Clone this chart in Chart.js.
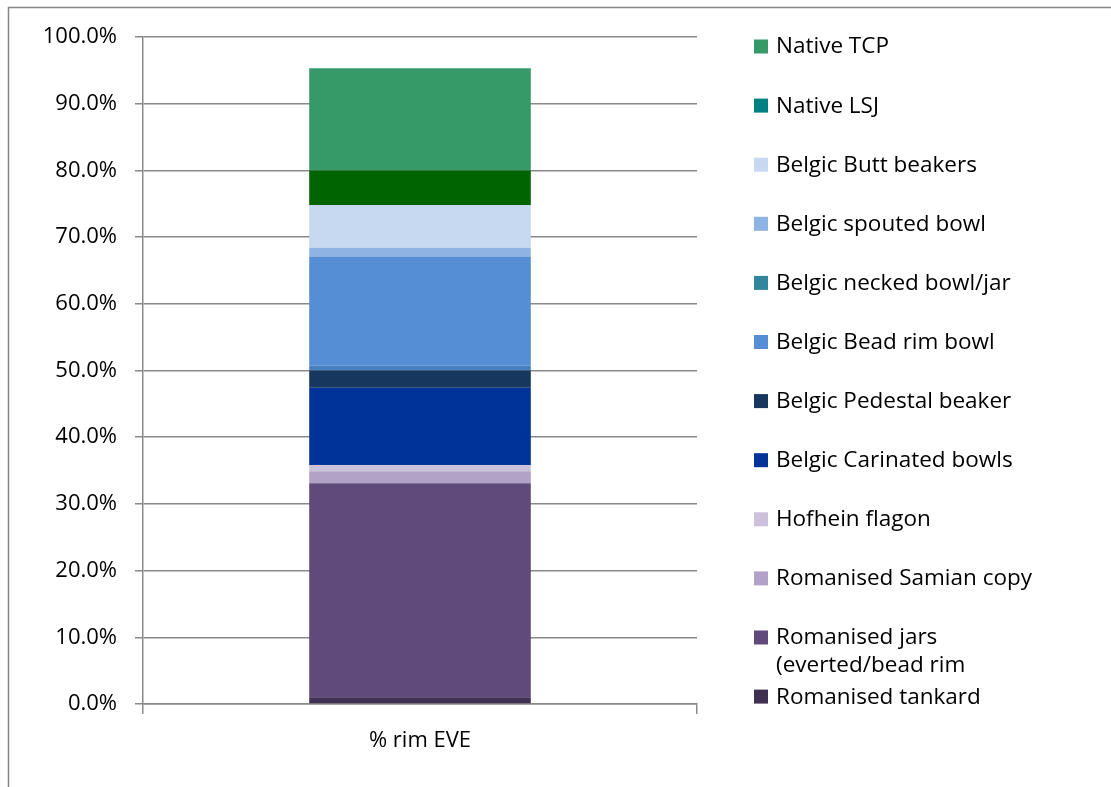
<!DOCTYPE html>
<html>
<head>
<meta charset="utf-8">
<script src="https://cdn.jsdelivr.net/npm/chart.js@4/dist/chart.umd.min.js"></script>
<style>
  html, body { margin: 0; padding: 0; background: #fff; }
  #wrap { width: 1111px; height: 787px; }
</style>
</head>
<body>
<div id="wrap"><canvas id="chart" width="1111" height="787"></canvas></div>
<script>
// data, bottom of the stack first
const categories = ['% rim EVE'];
const seriesNames = [
  'Romanised tankard',
  'Romanised jars (everted/bead rim',
  'Romanised Samian copy',
  'Hofhein flagon',
  'Belgic Carinated bowls',
  'Belgic Pedestal beaker',
  'Belgic necked bowl/jar',
  'Belgic Bead rim bowl',
  'Belgic spouted bowl',
  'Belgic Butt beakers',
  'Native LSJ',
  'Native TCP'
];
const seriesValues = [1.0, 32.1, 1.8, 0.9, 11.6, 2.6, 0.7, 16.4, 1.3, 6.4, 5.2, 15.3];
const barColors = [
  '#403152', '#604a7b', '#b3a2c7', '#ccc1da', '#003399', '#17375e',
  '#4a7fbf', '#558ed5', '#8eb4e3', '#c6d9f1', '#006400', '#369a68'
];
const legendColors = [
  '#403152', '#604a7b', '#b3a2c7', '#ccc1da', '#003399', '#17375e',
  '#31859c', '#558ed5', '#8eb4e3', '#c6d9f1', '#008080', '#369a68'
];
// legend as printed, top to bottom
const legendOrder = [
  'Native TCP',
  'Native LSJ',
  'Belgic Butt beakers',
  'Belgic spouted bowl',
  'Belgic necked bowl/jar',
  'Belgic Bead rim bowl',
  'Belgic Pedestal beaker',
  'Belgic Carinated bowls',
  'Hofhein flagon',
  'Romanised Samian copy',
  'Romanised jars (everted/bead rim',
  'Romanised tankard'
];
const yTicks = [0, 10, 20, 30, 40, 50, 60, 70, 80, 90, 100];

const FONT = '"Open Sans", sans-serif';
const GRID = '#8a8a8a';

// Excel-like outer frame + hand-drawn legend on the right
const frameAndLegend = {
  id: 'frameAndLegend',
  beforeDraw(chart) {
    const ctx = chart.ctx;
    ctx.save();
    ctx.strokeStyle = '#868686';
    ctx.lineWidth = 1.5;
    ctx.beginPath();
    ctx.moveTo(8.5, 787);
    ctx.lineTo(8.5, 7.5);
    ctx.lineTo(1111, 7.5);
    ctx.stroke();
    ctx.restore();
  },
  afterDraw(chart) {
    const ctx = chart.ctx;
    ctx.save();
    ctx.font = '22.5px ' + FONT;
    ctx.textBaseline = 'middle';
    legendOrder.forEach((name, i) => {
      const idx = seriesNames.indexOf(name);
      const cy = 46.5 + i * 59.1;
      ctx.fillStyle = legendColors[idx];
      ctx.fillRect(754, cy - 7, 14, 14);
      ctx.fillStyle = '#000';
      // simple greedy wrap
      const words = name.split(' ');
      const lines = [];
      let line = '';
      words.forEach(w => {
        const test = line ? line + ' ' + w : w;
        if (ctx.measureText(test).width > 300 && line) {
          lines.push(line);
          line = w;
        } else {
          line = test;
        }
      });
      lines.push(line);
      lines.forEach((t, k) => ctx.fillText(t, 776, cy + 0.5 + k * 28));
    });
    ctx.restore();
  }
};

new Chart(document.getElementById('chart'), {
  type: 'bar',
  data: {
    labels: categories,
    datasets: seriesNames.map((name, i) => ({
      label: name,
      data: [seriesValues[i]],
      backgroundColor: barColors[i],
      borderWidth: 0,
      categoryPercentage: 1,
      barPercentage: 0.4
    }))
  },
  options: {
    responsive: false,
    animation: false,
    layout: { padding: { left: 0, right: 414, top: 37, bottom: 0 } },
    plugins: {
      legend: { display: false },
      tooltip: { enabled: false }
    },
    scales: {
      x: {
        stacked: true,
        afterFit: s => { s.height = 83; },
        grid: {
          offset: true,
          drawOnChartArea: false,
          drawTicks: true,
          tickLength: 10,
          color: GRID,
          lineWidth: 1.5
        },
        border: { color: GRID, width: 1.5 },
        ticks: {
          color: '#000',
          font: { family: FONT, size: 22 },
          padding: 14
        }
      },
      y: {
        stacked: true,
        min: 0,
        max: 100,
        afterFit: s => { s.width = 143; },
        afterBuildTicks: s => { s.ticks = yTicks.map(v => ({ value: v })); },
        grid: {
          color: GRID,
          lineWidth: 1.5,
          tickLength: 8
        },
        border: { color: GRID, width: 1.5 },
        ticks: {
          color: '#000',
          font: { family: FONT, size: 22 },
          padding: 18,
          callback: v => v.toFixed(1) + '%'
        }
      }
    }
  },
  plugins: [frameAndLegend]
});
</script>
</body>
</html>
